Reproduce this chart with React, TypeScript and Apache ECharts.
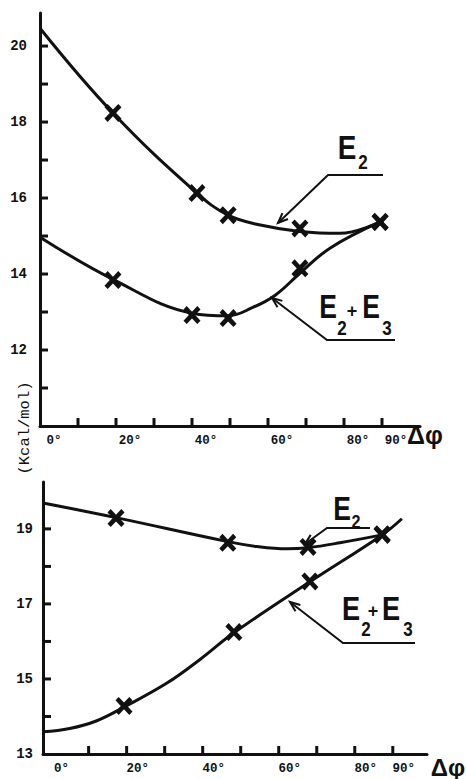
import React, { useEffect, useRef } from "react";
import * as echarts from "echarts";

// ---- axis ticks / labels ----
const xTickValues = [10, 20, 30, 40, 50, 60, 70, 80, 90];
const xLabelValues = [0, 20, 40, 60, 80, 90];
const topYTicks = [11, 12, 13, 14, 15, 16, 17, 18, 19, 20];
const topYLabels = [12, 14, 16, 18, 20];
const bottomYTicks = [14, 15, 16, 17, 18, 19];
const bottomYLabels = [13, 15, 17, 19];

// ---- top panel ----
const topE2Curve = [
  [0, 20.47], [19.2, 18.24], [41.3, 16.13], [49.5, 15.55], [58, 15.29],
  [68.4, 15.12], [79, 15.07], [89.5, 15.37],
];
const topE2Marks = [[19.2, 18.24], [41.3, 16.13], [49.5, 15.55], [68.4, 15.2], [89.5, 15.37]];
const topE23Curve = [
  [0, 14.97], [19.2, 13.86], [40, 12.97], [49.5, 12.9], [56, 13.12],
  [62, 13.45], [68.4, 14.02], [76.3, 14.68], [89.5, 15.37],
];
const topE23Marks = [[19.2, 13.84], [40, 12.92], [49.5, 12.84], [68.4, 14.15], [89.5, 15.37]];

// ---- bottom panel ----
const botE2Curve = [
  [-2, 19.69], [17.2, 19.3], [46.6, 18.66], [54.3, 18.53], [62.2, 18.47],
  [67.7, 18.5], [76.1, 18.63], [87.2, 18.84],
];
const botE2Marks = [[17.2, 19.29], [46.6, 18.63], [67.7, 18.52], [87.2, 18.84]];
const botE23Curve = [
  [-2, 13.59], [5, 13.68], [12, 13.88], [19.3, 14.25], [30.6, 14.89],
  [39.3, 15.52], [48.2, 16.23], [68.2, 17.59], [87.2, 18.84], [92.4, 19.27],
];
const botE23Marks = [[19.3, 14.28], [48.2, 16.25], [68.2, 17.6], [87.2, 18.86]];

const INK = "#111";
const XSYM = "path://M0,3 L3,0 L8,5 L13,0 L16,3 L11,8 L16,13 L13,16 L8,11 L3,16 L0,13 L5,8 Z";
const MONO = "'Liberation Mono', 'DejaVu Sans Mono', monospace";
const SANS = "'Liberation Sans', sans-serif";

function xAxis(gridIndex: number, min: number, max: number, pad: number) {
  return {
    type: "value", gridIndex, min, max,
    splitLine: { show: false },
    axisLine: { show: true, onZero: false, lineStyle: { color: INK, width: 3 } },
    axisTick: { show: false },
    axisLabel: {
      customValues: xLabelValues,
      formatter: (v: number) => `${v}°`,
      color: INK, fontFamily: MONO, fontWeight: "bold", fontSize: 12.5, margin: 8,
      padding: [0, 0, 0, pad],
    },
  };
}

function yAxis(gridIndex: number, min: number, max: number, labels: number[], margin: number) {
  return {
    type: "value", gridIndex, min, max,
    splitLine: { show: false },
    axisLine: { show: true, onZero: false, lineStyle: { color: INK, width: 3 } },
    axisTick: { show: false },
    axisLabel: { customValues: labels, color: INK, fontFamily: MONO, fontWeight: "bold", fontSize: 14, margin },
  };
}

function curve(data: number[][], idx: number) {
  return {
    type: "line", xAxisIndex: idx, yAxisIndex: idx, data, smooth: 0.4, showSymbol: false,
    lineStyle: { color: INK, width: 3 }, silent: true,
  };
}

function marks(data: number[][], idx: number) {
  return {
    type: "scatter", xAxisIndex: idx, yAxisIndex: idx, data, symbol: XSYM, symbolSize: [17, 18],
    itemStyle: { color: INK, opacity: 1 }, z: 5,
  };
}

// inside tick marks placed through the axes' own scales
function tickSeries(values: number[], fixed: number, idx: number, vertical: boolean) {
  return {
    type: "custom", xAxisIndex: idx, yAxisIndex: idx, silent: true, clip: false, z: 6,
    data: values.map((v) => (vertical ? [v, fixed] : [fixed, v])),
    renderItem: (params: any, api: any) => {
      const p = api.coord([api.value(0), api.value(1)]);
      return {
        type: "rect",
        shape: vertical
          ? { x: p[0] - 1.5, y: p[1] - 8, width: 3, height: 8 }
          : { x: p[0], y: p[1] - 1.5, width: 8, height: 3 },
        style: { fill: INK },
      };
    },
  };
}

function txt(x: number, y: number, text: string, size: number, family = SANS, weight = "bold", sx = 1) {
  return {
    type: "text", x, y, z: 20, scaleX: sx,
    style: { text, font: `${weight} ${size}px ${family}`, fill: INK, align: "center", verticalAlign: "middle" },
  };
}

function leader(pts: number[][]) {
  const [fx, fy] = pts[pts.length - 2];
  const [tx, ty] = pts[pts.length - 1];
  const dx = fx - tx, dy = fy - ty;
  const L = Math.hypot(dx, dy);
  const ux = dx / L, uy = dy / L;
  const bx = tx + ux * 10, by = ty + uy * 10;
  const px = -uy * 4, py = ux * 4;
  return [
    { type: "polyline", z: 20, shape: { points: pts }, style: { stroke: INK, lineWidth: 2, fill: null } },
    { type: "polyline", z: 20, shape: { points: [[bx + px, by + py], [tx, ty], [bx - px, by - py]] }, style: { stroke: INK, lineWidth: 2, fill: null } },
  ];
}

const annotations = [
  // top E2
  txt(347, 148, "E", 34, SANS, "bold", 0.82),
  txt(363, 162, "2", 20, SANS, "bold", 0.85),
  ...leader([[383, 175], [328, 175], [278, 223]]),
  // top E2+E3
  txt(328, 306, "E", 34, SANS, "bold", 0.78),
  txt(342, 328, "2", 20, SANS, "bold", 0.85),
  txt(352, 311, "+", 18),
  txt(371, 306, "E", 34, SANS, "bold", 0.78),
  txt(387, 328, "3", 20, SANS, "bold", 0.85),
  ...leader([[395, 340], [327, 340], [272, 298]]),
  // bottom E2
  txt(342, 508, "E", 34, SANS, "bold", 0.78),
  txt(356, 522, "2", 19, SANS, "bold", 0.85),
  ...leader([[370, 528], [327, 528], [305, 544]]),
  // bottom E2+E3
  txt(351, 608, "E", 34, SANS, "bold", 0.8),
  txt(366, 629, "2", 20, SANS, "bold", 0.85),
  txt(373, 611, "+", 18),
  txt(391, 608, "E", 34, SANS, "bold", 0.8),
  txt(408, 629, "3", 20, SANS, "bold", 0.85),
  ...leader([[415, 643], [343, 643], [290, 602]]),
  // axis names
  txt(425, 435, "Δφ", 25),
  txt(448, 767, "Δφ", 24),
  { ...txt(25, 428, "(Kcal/mol)", 15.5, MONO, "normal"), rotation: Math.PI / 2 },
];

export default function App() {
  const ref = useRef<HTMLDivElement>(null);
  useEffect(() => {
    if (!ref.current) return;
    const chart = echarts.init(ref.current, null, { renderer: "svg" });
    chart.setOption({
      animation: false,
      backgroundColor: "#fff",
      grid: [
        { left: 40, right: 46, top: 13, bottom: 353 },
        { left: 43, right: 39, top: 482, bottom: 25 },
      ],
      xAxis: [xAxis(0, 0, 100, 28), xAxis(1, -2, 99, 22)],
      yAxis: [yAxis(0, 10, 20.87, topYLabels, 13), yAxis(1, 13, 20.25, bottomYLabels, 10)],
      series: [
        curve(topE2Curve, 0), curve(topE23Curve, 0), marks(topE2Marks, 0), marks(topE23Marks, 0),
        curve(botE2Curve, 1), curve(botE23Curve, 1), marks(botE2Marks, 1), marks(botE23Marks, 1),
        tickSeries(topYTicks, 0, 0, false), tickSeries(xTickValues, 10, 0, true),
        tickSeries(bottomYTicks, -2, 1, false), tickSeries(xTickValues, 13, 1, true),
      ],
      graphic: annotations,
    });
    return () => chart.dispose();
  }, []);
  return <div ref={ref} style={{ position: "absolute", left: 0, top: 0, width: 466, height: 779, background: "#fff" }} />;
}
